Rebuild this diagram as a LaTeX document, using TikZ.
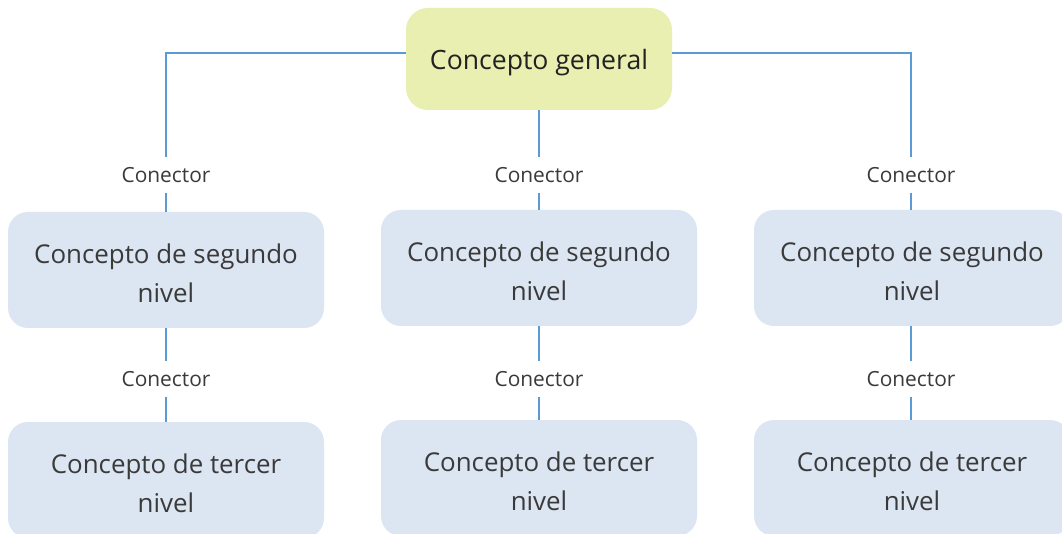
\documentclass[tikz,border=0pt]{standalone}
\usepackage{fontspec}
\setmainfont{Open Sans}
\definecolor{topfill}{HTML}{E8EFB0}
\definecolor{boxfill}{HTML}{DCE5F2}
\definecolor{linecol}{HTML}{5B9BD5}
\definecolor{txtdark}{HTML}{222222}
\definecolor{txtmid}{HTML}{3A3A3A}
\newcommand\twolines[2]{\raisebox{-5pt}[\height][\depth]{\begin{tabular}{@{}c@{}}#1\\#2\end{tabular}}}
\begin{document}
\begin{tikzpicture}[x=1pt,y=-1pt,
  topbox/.style={fill=topfill, rounded corners=22pt, minimum width=266pt, minimum height=102pt, inner sep=0pt, text=txtdark, font=\fontsize{26.6}{30}\selectfont},
  lvlbox/.style={fill=boxfill, rounded corners=20pt, minimum width=316pt, minimum height=116pt, inner sep=0pt, text=txtmid, font=\fontsize{25.9}{39}\selectfont},
  conlabel/.style={inner sep=0pt, minimum height=35pt, text=txtmid, font=\fontsize{20.9}{24}\selectfont},
  conn/.style={draw=linecol, line width=1.2pt}
]
\useasboundingbox (0,0) rectangle (1062,534);
\clip (0,0) rectangle (1062,534);
\fill[white] (0,0) rectangle (1062,534);

\node[topbox] (top) at (539,59) {\raisebox{-4pt}[\height][\depth]{Concepto general}};

% second level
\node[lvlbox] (s1) at (166,270) {\twolines{Concepto de segundo}{nivel}};
\node[lvlbox] (s2) at (539,268) {\twolines{Concepto de segundo}{nivel}};
\node[lvlbox] (s3) at (912,268) {\twolines{Concepto de segundo}{nivel}};

% third level
\node[lvlbox] (t1) at (166,480) {\twolines{Concepto de tercer}{nivel}};
\node[lvlbox] (t2) at (539,478) {\twolines{Concepto de tercer}{nivel}};
\node[lvlbox] (t3) at (912,478) {\twolines{Concepto de tercer}{nivel}};

% connector labels
\node[conlabel] (a1) at (166,175) {Conector};
\node[conlabel] (a2) at (539,175) {Conector};
\node[conlabel] (a3) at (911,175) {Conector};
\node[conlabel] (b1) at (166,379) {Conector};
\node[conlabel] (b2) at (539,379) {Conector};
\node[conlabel] (b3) at (911,379) {Conector};

% connectors from general concept
\draw[conn] ([yshift=6pt]top.west) -| (a1.north);
\draw[conn] ([yshift=6pt]top.east) -| (a3.north);
\draw[conn] (top.south) -- (a2.north);
\draw[conn] (a1.south) -- (a1.south |- s1.north);
\draw[conn] (a2.south) -- (a2.south |- s2.north);
\draw[conn] (a3.south) -- (a3.south |- s3.north);

% connectors second to third level
\draw[conn] (b1.north |- s1.south) -- (b1.north);
\draw[conn] (b2.north |- s2.south) -- (b2.north);
\draw[conn] (b3.north |- s3.south) -- (b3.north);
\draw[conn] (b1.south) -- (b1.south |- t1.north);
\draw[conn] (b2.south) -- (b2.south |- t2.north);
\draw[conn] (b3.south) -- (b3.south |- t3.north);
\end{tikzpicture}
\end{document}
